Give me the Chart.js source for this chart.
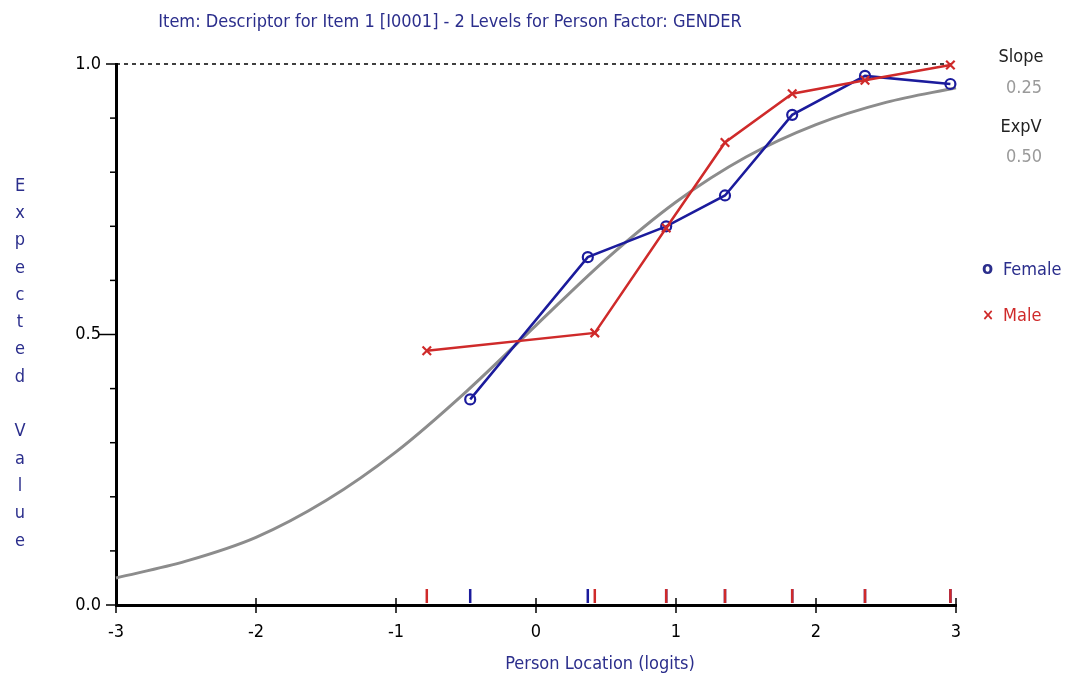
<!DOCTYPE html>
<html>
<head>
<meta charset="utf-8">
<script src="https://cdn.jsdelivr.net/npm/chart.js@4.4.1/dist/chart.umd.min.js"></script>
<style>
  html, body { margin: 0; padding: 0; background: #fff; }
  canvas { display: block; }
</style>
</head>
<body>
<canvas id="icc" width="1074" height="681"></canvas>
<script>
const titleText = 'Item: Descriptor for Item 1 [I0001] - 2 Levels for Person Factor: GENDER';
const groupNames = ['Female', 'Male'];

// grey expected value curve, every half logit
const curveX = [-3, -2.5, -2, -1.5, -1, -0.5, 0, 0.5, 1, 1.5, 2, 2.5, 3];
const curveY = [0.05, 0.081, 0.125, 0.193, 0.283, 0.394, 0.517, 0.639, 0.745, 0.828, 0.888, 0.929, 0.956];

// observed means per class interval
const femaleX = [-0.47, 0.37, 0.93, 1.35, 1.83, 2.35, 2.96];
const femaleY = [0.38, 0.643, 0.70, 0.757, 0.906, 0.978, 0.963];
const maleX = [-0.78, 0.42, 0.93, 1.35, 1.83, 2.35, 2.96];
const maleY = [0.47, 0.503, 0.697, 0.855, 0.945, 0.97, 0.998];

const slopeValue = '0.25';
const expValue = '0.50';

const FONT = '"Liberation Sans Narrow", "DejaVu Sans Condensed", "Liberation Sans", sans-serif';
const NAVY = '#2b2e8c';
const BLUE = '#1b1b9c';
const RED = '#cf2a2a';

const toPoints = (xs, ys) => xs.map((v, i) => ({ x: v, y: ys[i] }));

// axes ticks, reference line, rug marks and side texts
const decor = {
  id: 'decor',
  beforeDatasetsDraw(chart) {
    const { ctx, scales: { x, y } } = chart;
    ctx.save();
    ctx.strokeStyle = '#000';
    ctx.lineWidth = 1.5;
    ctx.setLineDash([4, 4]);
    ctx.beginPath();
    ctx.moveTo(x.left, y.getPixelForValue(1));
    ctx.lineTo(x.right, y.getPixelForValue(1));
    ctx.stroke();
    ctx.restore();
  },
  afterDraw(chart) {
    const { ctx, scales: { x, y } } = chart;
    ctx.save();
    ctx.strokeStyle = '#000';
    ctx.lineWidth = 1.5;
    for (let i = 0; i <= 10; i++) {
      const py = y.getPixelForValue(i / 10);
      const len = i === 5 ? 17 : (i % 10 === 0 ? 10 : 6);
      ctx.beginPath();
      ctx.moveTo(x.left - len, py);
      ctx.lineTo(x.left, py);
      ctx.stroke();
    }
    const y0 = y.getPixelForValue(0);
    for (let v = -3; v <= 3; v++) {
      const px = x.getPixelForValue(v);
      ctx.beginPath();
      ctx.moveTo(px, y0 - 7);
      ctx.lineTo(px, y0 + 8);
      ctx.stroke();
    }
    // rug marks for class interval locations
    ctx.lineWidth = 2.5;
    [[femaleX, BLUE], [maleX, RED]].forEach(([xs, col]) => {
      ctx.strokeStyle = col;
      xs.forEach(v => {
        const px = x.getPixelForValue(v);
        ctx.beginPath();
        ctx.moveTo(px, y0 - 16);
        ctx.lineTo(px, y0 - 2);
        ctx.stroke();
      });
    });

    ctx.textBaseline = 'middle';
    ctx.textAlign = 'center';
    ctx.fillStyle = NAVY;
    ctx.font = '18px ' + FONT;
    ctx.fillText(titleText, 450, 22);
    ctx.fillText('Person Location (logits)', 600, 664);

    const letters = 'Expected Value'.split('');
    letters.forEach((ch, i) => {
      ctx.fillText(ch, 20, 186 + i * 27.3);
    });

    ctx.fillStyle = '#222';
    ctx.fillText('Slope', 1021, 57);
    ctx.fillText('ExpV', 1021, 127);
    ctx.fillStyle = '#9a9a9a';
    ctx.fillText(slopeValue, 1024, 88);
    ctx.fillText(expValue, 1024, 157);

    ctx.textAlign = 'left';
    ctx.fillStyle = NAVY;
    ctx.font = 'bold 18px ' + FONT;
    ctx.fillText('o', 982, 269);
    ctx.font = '18px ' + FONT;
    ctx.fillText(groupNames[0], 1003, 270);
    ctx.fillStyle = RED;
    ctx.font = 'bold 16px ' + FONT;
    ctx.fillText('×', 982, 316);
    ctx.font = '18px ' + FONT;
    ctx.fillText(groupNames[1], 1003, 316);
    ctx.restore();
  }
};

new Chart(document.getElementById('icc').getContext('2d'), {
  type: 'scatter',
  data: {
    datasets: [
      {
        label: groupNames[1],
        data: toPoints(maleX, maleY),
        showLine: true,
        borderColor: RED,
        borderWidth: 2.5,
        pointStyle: 'crossRot',
        pointRadius: 6,
        pointBorderWidth: 2.2,
        pointBorderColor: RED,
        order: 1,
        clip: false
      },
      {
        label: groupNames[0],
        data: toPoints(femaleX, femaleY),
        showLine: true,
        borderColor: BLUE,
        borderWidth: 2.5,
        pointStyle: 'circle',
        pointRadius: 5,
        pointBorderWidth: 2.2,
        pointBorderColor: BLUE,
        pointBackgroundColor: 'rgba(0,0,0,0)',
        order: 2,
        clip: false
      },
      {
        label: 'Expected',
        data: toPoints(curveX, curveY),
        showLine: true,
        borderColor: '#8c8c8c',
        borderWidth: 3,
        pointRadius: 0,
        cubicInterpolationMode: 'monotone',
        order: 3,
        clip: false
      }
    ]
  },
  options: {
    responsive: false,
    animation: false,
    layout: { padding: { top: 64, right: 118, left: 0, bottom: 0 } },
    plugins: {
      legend: { display: false },
      tooltip: { enabled: false }
    },
    scales: {
      x: {
        type: 'linear',
        min: -3,
        max: 3,
        afterFit: s => { s.height = 76; },
        ticks: {
          stepSize: 1,
          padding: 17,
          color: '#000',
          font: { family: FONT, size: 18 }
        },
        grid: { display: false, drawTicks: false, tickLength: 0 },
        border: { display: true, color: '#000', width: 3 }
      },
      y: {
        type: 'linear',
        min: 0,
        max: 1,
        afterFit: s => { s.width = 116; },
        ticks: {
          stepSize: 0.1,
          autoSkip: false,
          padding: 15,
          color: '#000',
          font: { family: FONT, size: 18 },
          callback: v => {
            const r = Math.round(v * 10);
            return r % 5 === 0 ? (r / 10).toFixed(1) : '';
          }
        },
        grid: { display: false, drawTicks: false, tickLength: 0 },
        border: { display: true, color: '#000', width: 3 }
      }
    }
  },
  plugins: [decor]
});
</script>
</body>
</html>
